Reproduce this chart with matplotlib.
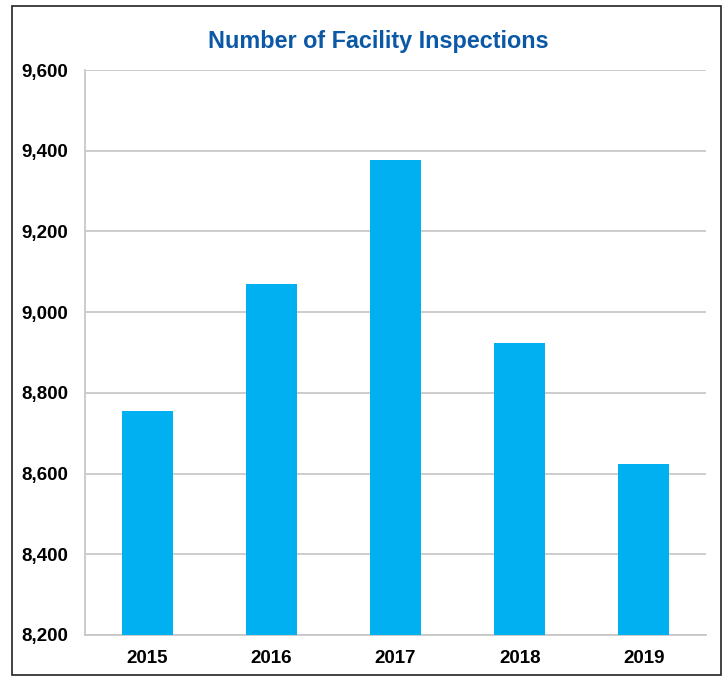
import matplotlib
matplotlib.use("Agg")
import matplotlib.pyplot as plt
from matplotlib.patches import Rectangle
from matplotlib.ticker import FuncFormatter

years = ["2015", "2016", "2017", "2018", "2019"]
inspections = [8755, 9070, 9378, 8924, 8623]
yticks = [8200, 8400, 8600, 8800, 9000, 9200, 9400, 9600]

plt.rcParams['font.family'] = ['Liberation Sans', 'DejaVu Sans']

fig = plt.figure(figsize=(7.27, 6.77), dpi=100)
W, H = 727, 677
ax = fig.add_axes([85 / W, 1 - 635 / H, (706 - 85) / W, (635 - 70) / H])

x = range(len(years))
ax.bar(x, [v - 8200 for v in inspections], bottom=8200, width=0.41, color="#00B0F0", zorder=3)

ax.set_ylim(8200, 9600)
ax.set_xlim(-0.5, len(years) - 0.5)
ax.set_yticks(yticks)
ax.yaxis.set_major_formatter(FuncFormatter(lambda v, p: f"{int(v):,}"))
ax.set_xticks(list(x))
ax.set_xticklabels(years)
ax.grid(axis="y", color="#C8C8C8", linewidth=1.3, zorder=0)
for s in ["top", "right"]:
    ax.spines[s].set_visible(False)
for s in ["left", "bottom"]:
    ax.spines[s].set_color("#C8C8C8")
    ax.spines[s].set_linewidth(1.3)
ax.tick_params(axis="both", length=0, labelsize=13.5)
ax.tick_params(axis="y", pad=12)
ax.tick_params(axis="x", pad=11)
for lab in ax.get_xticklabels() + ax.get_yticklabels():
    lab.set_fontweight("bold")

fig.text(378 / W, 1 - 41.5 / H, "Number of Facility Inspections", ha="center", va="center",
         fontsize=16.8, fontweight="bold", color="#0B58A6")

fig.patches.append(Rectangle((12 / W, 1 - 675 / H), (721 - 12) / W, (675 - 6) / H,
                             transform=fig.transFigure, fill=False, edgecolor="#222222",
                             linewidth=1.2))

fig.savefig("out.png", dpi=100)
